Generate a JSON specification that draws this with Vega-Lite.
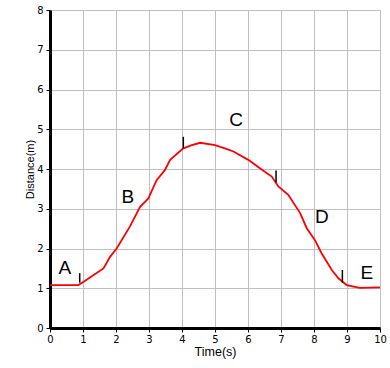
{
  "$schema": "https://vega.github.io/schema/vega-lite/v6.json",
  "width": 330,
  "height": 318,
  "autosize": {"type": "none"},
  "padding": {"left": 50, "top": 10, "right": 10, "bottom": 40},
  "background": "white",
  "config": {
    "view": {"stroke": null},
    "axis": {
      "gridColor": "#c0c0c0",
      "gridWidth": 1,
      "gridOpacity": 1,
      "domainColor": "black",
      "domainWidth": 3,
      "tickColor": "black",
      "tickSize": 4,
      "labelFont": "DejaVu Sans",
      "labelFontSize": 10,
      "labelColor": "black",
      "labelOverlap": false,
      "labelFlush": false,
      "titleFont": "Liberation Sans",
      "titleFontSize": 12,
      "titleFontWeight": "normal",
      "titleColor": "black"
    },
    "axisX": {"tickCount": 10},
    "axisY": {"tickCount": 8}
  },
  "datasets": {
    "curve": [
      {"t": 0, "d": 1.08}, {"t": 0.86, "d": 1.08}, {"t": 1.01, "d": 1.16},
      {"t": 1.3, "d": 1.32}, {"t": 1.62, "d": 1.5}, {"t": 1.82, "d": 1.79},
      {"t": 2.02, "d": 2.0}, {"t": 2.42, "d": 2.55}, {"t": 2.73, "d": 3.05},
      {"t": 2.98, "d": 3.26}, {"t": 3.23, "d": 3.72}, {"t": 3.48, "d": 3.97},
      {"t": 3.64, "d": 4.23}, {"t": 4.04, "d": 4.52}, {"t": 4.3, "d": 4.6},
      {"t": 4.55, "d": 4.66}, {"t": 5.0, "d": 4.6}, {"t": 5.3, "d": 4.52},
      {"t": 5.56, "d": 4.44}, {"t": 6.01, "d": 4.23}, {"t": 6.36, "d": 4.02},
      {"t": 6.72, "d": 3.81}, {"t": 6.92, "d": 3.56}, {"t": 7.22, "d": 3.35},
      {"t": 7.58, "d": 2.89}, {"t": 7.78, "d": 2.51}, {"t": 8.03, "d": 2.21},
      {"t": 8.23, "d": 1.88}, {"t": 8.54, "d": 1.46}, {"t": 8.74, "d": 1.25},
      {"t": 8.99, "d": 1.08}, {"t": 9.39, "d": 1.01}, {"t": 10, "d": 1.02}
    ],
    "labels": [
      {"t": 0.45, "d": 1.5, "s": "A"},
      {"t": 2.36, "d": 3.3, "s": "B"},
      {"t": 5.64, "d": 5.23, "s": "C"},
      {"t": 8.24, "d": 2.8, "s": "D"},
      {"t": 9.6, "d": 1.38, "s": "E"}
    ],
    "marks": [
      {"t": 0.9, "d1": 1.14, "d2": 1.38},
      {"t": 4.04, "d1": 4.52, "d2": 4.81},
      {"t": 6.85, "d1": 3.66, "d2": 3.96},
      {"t": 8.86, "d1": 1.14, "d2": 1.46}
    ]
  },
  "layer": [
    {
      "data": {"name": "curve"},
      "mark": {"type": "line", "color": "#ff0000", "strokeWidth": 1.8, "clip": true},
      "encoding": {
        "x": {"field": "t", "type": "quantitative", "scale": {"domain": [0, 10], "nice": false, "zero": false},
          "axis": {"title": "Time(s)", "labelPadding": 2, "titlePadding": 1, "titleFontSize": 12.5}},
        "y": {"field": "d", "type": "quantitative", "scale": {"domain": [0, 8], "nice": false},
          "axis": {"title": "Distance(m)", "labelPadding": 3, "titlePadding": 1, "titleFontSize": 11}}
      }
    },
    {
      "data": {"name": "marks"},
      "mark": {"type": "rule", "color": "black", "strokeWidth": 1.5},
      "encoding": {
        "x": {"field": "t", "type": "quantitative"},
        "y": {"field": "d1", "type": "quantitative"},
        "y2": {"field": "d2"}
      }
    },
    {
      "data": {"name": "labels"},
      "mark": {"type": "text", "font": "Liberation Sans", "fontSize": 19, "color": "black", "align": "center", "baseline": "middle"},
      "encoding": {
        "x": {"field": "t", "type": "quantitative"},
        "y": {"field": "d", "type": "quantitative"},
        "text": {"field": "s"}
      }
    }
  ]
}
